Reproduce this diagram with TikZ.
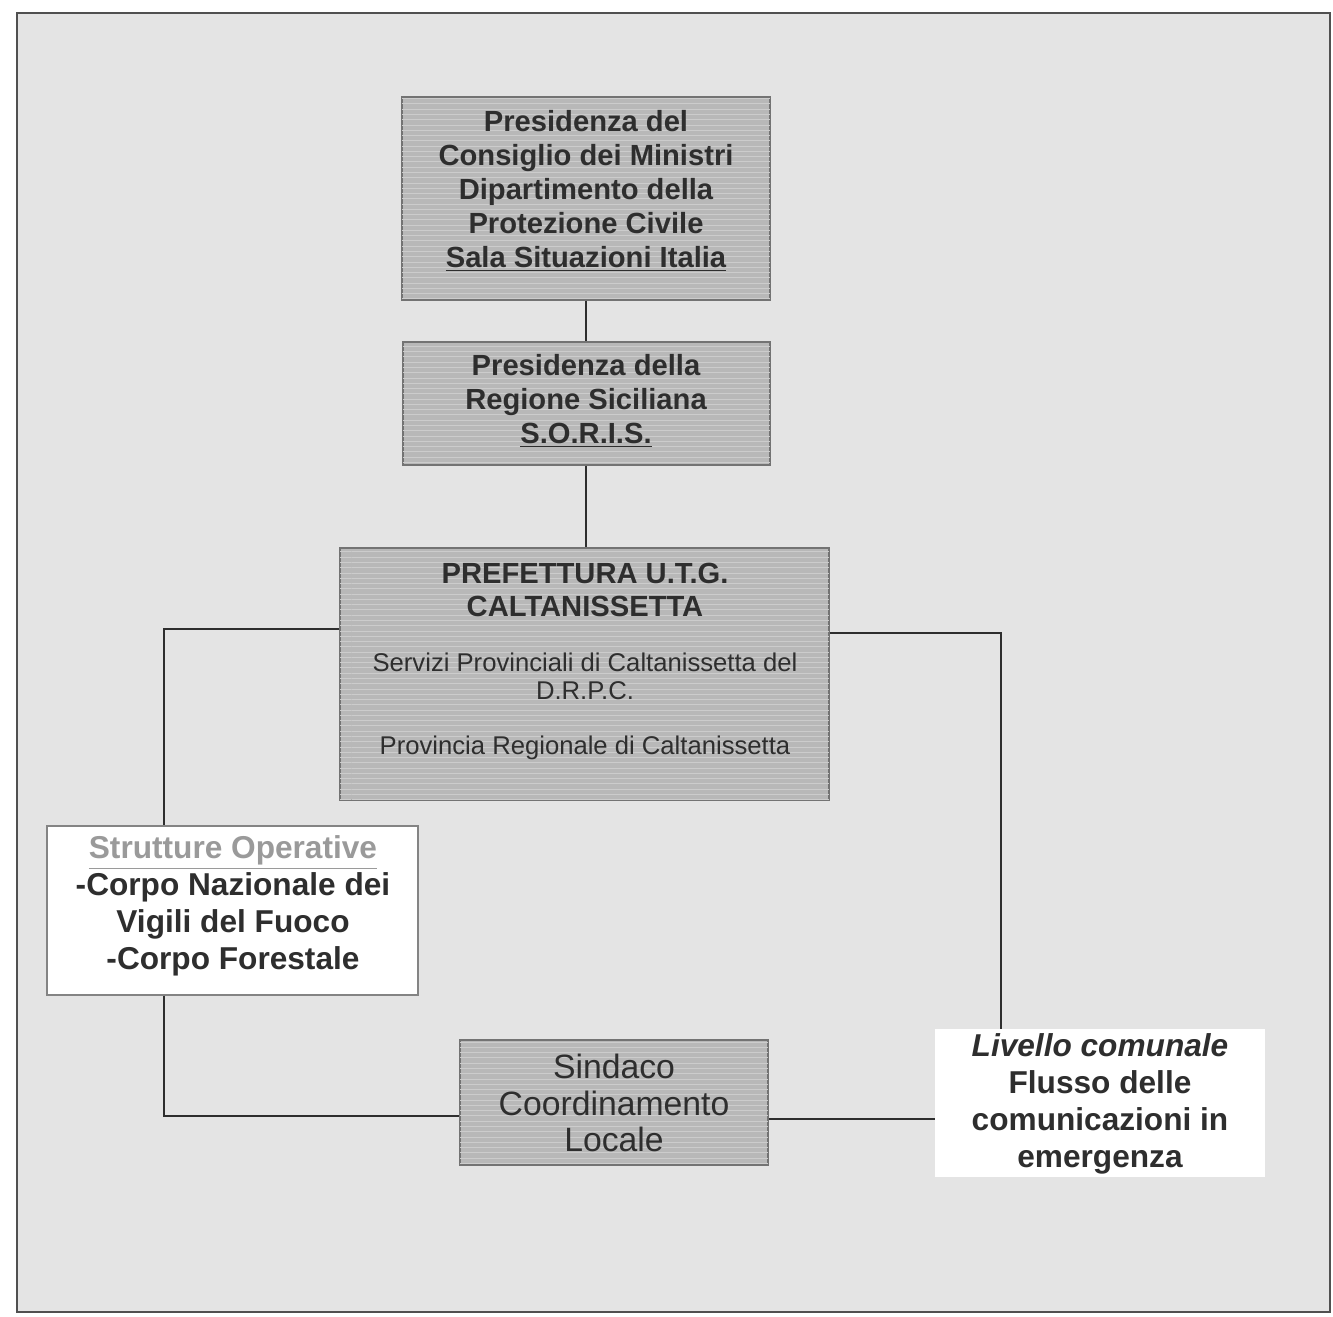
\documentclass[tikz,border=0pt]{standalone}
\usepackage{fontspec}
\setmainfont{Liberation Sans}
\usetikzlibrary{patterns}
\definecolor{bg}{HTML}{E4E4E4}
\definecolor{boxfill}{HTML}{B8B8B8}
\definecolor{stripe}{HTML}{CCCCCC}
\definecolor{ink}{HTML}{2E2E2E}
\definecolor{frame}{HTML}{505050}
\definecolor{soft}{HTML}{9A9A9A}
\tikzset{
  graybox/.style={draw=frame!80, line width=0.8pt, fill=boxfill,
    postaction={pattern=horizontal lines, pattern color=stripe},
    inner sep=0pt},
  whitebox/.style={draw=frame!70, line width=0.8pt, fill=white, inner sep=0pt},
  plainbox/.style={fill=white, inner sep=0pt},
  label/.style={text=ink, align=center, inner sep=0pt},
  conn/.style={draw=ink, line width=1pt}
}
\newcommand{\bigbold}{\fontsize{16.6}{19.3}\selectfont\bfseries}
\newcommand{\midreg}{\fontsize{14.6}{15.9}\selectfont}
\newcommand{\sidebold}{\fontsize{18}{21}\selectfont\bfseries}
\newcommand{\sindreg}{\fontsize{19.2}{21}\selectfont}
\begin{document}
\begin{tikzpicture}[x=0.02cm,y=-0.02cm]
\useasboundingbox (0,0) rectangle (1333,1317);
\fill[white] (0,0) rectangle (1333,1317);
\draw[fill=bg, draw=frame, line width=1.2pt] (17,13) rectangle (1330,1312);

% boxes
\node[graybox, minimum width=7.36cm, minimum height=4.06cm] (b1) at (586,198.5) {};
\node[graybox, minimum width=7.34cm, minimum height=2.46cm] (b2) at (586.5,403.5) {};
\node[graybox, minimum width=9.78cm, minimum height=5.04cm] (b3) at (584.5,674) {};
\node[whitebox, minimum width=7.42cm, minimum height=3.38cm] (b4) at (232.5,910.5) {};
\node[graybox, minimum width=6.16cm, minimum height=2.5cm] (b5) at (614,1102.5) {};
\node[plainbox, minimum width=6.6cm, minimum height=2.96cm] (b6) at (1100,1103) {};

% texts
\node[label, font=\bigbold] (t1) at (586,191) {Presidenza del\\Consiglio dei Ministri\\Dipartimento della\\Protezione Civile\\\underline{Sala Situazioni Italia}};
\node[label, font=\bigbold] (t2) at (586,401) {Presidenza della\\Regione Siciliana\\\underline{S.O.R.I.S.}};
\node[label, font=\bigbold] (t3a) at (585,590) {PREFETTURA U.T.G.\\CALTANISSETTA};
\node[label, font=\midreg] (t3b) at (585,676) {Servizi Provinciali di Caltanissetta del\\D.R.P.C.};
\node[label, font=\midreg] (t3c) at (585,748) {Provincia Regionale di Caltanissetta};
\node[label, font=\sidebold] (t4) at (233,906) {\textcolor{soft}{\underline{Strutture Operative}}\\-Corpo Nazionale dei\\Vigili del Fuoco\\-Corpo Forestale};
\node[label, font=\sindreg] (t5) at (614,1103) {Sindaco\\Coordinamento\\Locale};
\node[label, font=\sidebold] (t6) at (1100,1104) {\textit{Livello comunale}\\Flusso delle\\comunicazioni in\\emergenza};

% connector corners
\coordinate (cl) at (164,629);
\coordinate (bl) at (164,1116);
\coordinate (cr) at (1001,633);
\coordinate (br) at (850,1119);

\draw[conn] (b1.south) -- (b1.south |- b2.north);
\draw[conn] (b1.south |- b2.south) -- (b1.south |- b3.north);
\draw[conn] (b3.west |- cl) -- (cl) -- (cl |- b4.north);
\draw[conn] (b4.south -| bl) -- (bl) -- (b5.west |- bl);
\draw[conn] (b3.east |- cr) -- (cr) -- (cr |- b6.north);
\draw[conn] (b5.east |- br) -- (b6.west |- br);
\end{tikzpicture}
\end{document}
